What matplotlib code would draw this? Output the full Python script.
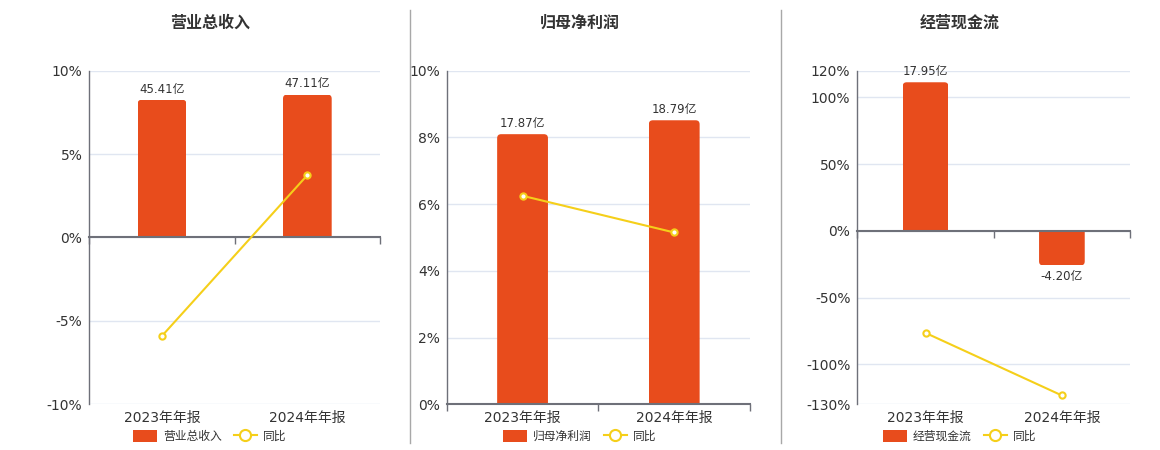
import numpy as np
import matplotlib
matplotlib.use('agg')
import matplotlib.pyplot as plt
from matplotlib.patches import FancyBboxPatch, Patch
from matplotlib.lines import Line2D
from matplotlib.ticker import FuncFormatter

plt.rcParams['font.family'] = ['DejaVu Sans', 'Noto Sans CJK SC']

# data
periods = ['2023年年报', '2024年年报']
titles = ['营业总收入', '归母净利润', '经营现金流']
revenue = [45.41, 47.11]          # 亿
net_profit = [17.87, 18.79]       # 亿
cash_flow = [17.95, -4.20]        # 亿
revenue_yoy = [-5.9, 3.74]        # %
net_profit_yoy = [6.25, 5.15]     # %
cash_flow_yoy = [-76.5, -123.4]   # %

# axis setup per panel (scale only)
pct_lims = [(-10, 10), (0, 10), (-130, 120)]
pct_ticks = [[-10, -5, 0, 5, 10], [0, 2, 4, 6, 8, 10],
             [-130, -100, -50, 0, 50, 100, 120]]
bar_lims = [(-55.0, 55.0), (0, 22.07), (-21.0, 19.35)]

BAR = '#E84C1C'
LINE = '#F5CF1A'
GRID = '#E0E6F1'
AXIS = '#6E7079'
TEXT = '#333333'

fig = plt.figure(figsize=(11.6, 4.5), dpi=100)
rects = [[0.0770, 0.1016, 0.2506, 0.7413],
         [0.3851, 0.1016, 0.2615, 0.7413],
         [0.7391, 0.1016, 0.2351, 0.7413]]
centers = [210, 580, 960]

series = [(revenue, revenue_yoy), (net_profit, net_profit_yoy),
          (cash_flow, cash_flow_yoy)]
x = np.arange(len(periods))

for i, (vals, yoy) in enumerate(series):
    ax = fig.add_axes(rects[i])
    ax.set_xlim(-0.5, len(periods) - 0.5)
    ax.set_ylim(*pct_lims[i])
    ax.set_yticks(pct_ticks[i])
    ax.yaxis.set_major_formatter(FuncFormatter(lambda v, p: f'{v:.0f}%'))
    ax.tick_params(axis='y', length=0, pad=5, labelsize=10, labelcolor=TEXT)
    ax.set_xticks(x)
    ax.set_xticklabels(periods)
    ax.tick_params(axis='x', length=0, pad=5, labelsize=10, labelcolor=TEXT)
    ax.grid(axis='y', color=GRID, lw=1)
    ax.set_axisbelow(True)
    for s in ['top', 'right', 'bottom']:
        ax.spines[s].set_visible(False)
    ax.spines['left'].set_color(AXIS)
    ax.spines['left'].set_linewidth(1)

    # bars on a hidden twin scale, rounded at the free end
    axb = ax.twinx()
    axb.set_ylim(*bar_lims[i])
    axb.axis('off')
    bars = axb.bar(x, vals, width=0.335, color=BAR, lw=0)
    axb.bar_label(bars, labels=[f'{v:.2f}亿' for v in vals], padding=3,
                  fontsize=8.5, color=TEXT)
    p0 = axb.transData.transform((0, 0))
    p1 = axb.transData.transform((1, 1))
    pxx, pxy = p1[0] - p0[0], p1[1] - p0[1]
    ext = 6 / pxy
    for b in bars:
        bx, bw, bh = b.get_x(), b.get_width(), b.get_height()
        lo = min(0, bh) - (ext if bh > 0 else 0)
        hi = max(0, bh) + (ext if bh < 0 else 0)
        rb = FancyBboxPatch((bx, lo), bw, hi - lo,
                            boxstyle=f'round,pad=0,rounding_size={4 / pxx}',
                            mutation_aspect=pxx / pxy, fc=BAR, lw=0)
        axb.add_patch(rb)
        rb.set_clip_path(b)
        b.set_facecolor('none')

    # yoy line on top
    axl = ax.twinx()
    axl.set_ylim(ax.get_ylim())
    axl.axis('off')
    axl.plot(x, yoy, color=LINE, lw=1.5, marker='o', ms=4.5, mfc='white',
             mec=LINE, mew=1.5, zorder=5)
    ymin, ymax = pct_lims[i]
    zero = (0 - ymin) / (ymax - ymin)
    sec = axl.secondary_xaxis(zero)
    sec.set_xticks([-0.5, 0.5, 1.5])
    sec.set_xticklabels([])
    sec.xaxis.set_ticks_position('bottom')
    sec.tick_params(length=5, width=1, color=AXIS, direction='out')
    for s in ['top', 'bottom']:
        sec.spines[s].set_color(AXIS)
        sec.spines[s].set_linewidth(1.5)

    fig.text(centers[i] / 1160, 1 - 23 / 450, titles[i], ha='center',
             va='center', fontsize=11.5, fontweight='bold', color=TEXT)
    handles = [Patch(facecolor=BAR, edgecolor='none'),
               Line2D([], [], color=LINE, lw=1.5, marker='o', ms=8,
                      mfc='white', mec=LINE, mew=1.5)]
    fig.legend(handles, [titles[i], '同比'], loc='center', ncol=2,
               bbox_to_anchor=(centers[i] / 1160, 1 - 436.5 / 450),
               frameon=False, fontsize=8.5, handlelength=2.0,
               handleheight=1.1, columnspacing=1.0, handletextpad=0.5,
               labelcolor=TEXT)

for sx in [410.3, 781]:
    fig.add_artist(Line2D([sx / 1160, sx / 1160], [1 - 10 / 450, 1 - 443 / 450],
                          transform=fig.transFigure, color='#A8A8A8', lw=1))

fig.savefig('out.png', dpi=100)
